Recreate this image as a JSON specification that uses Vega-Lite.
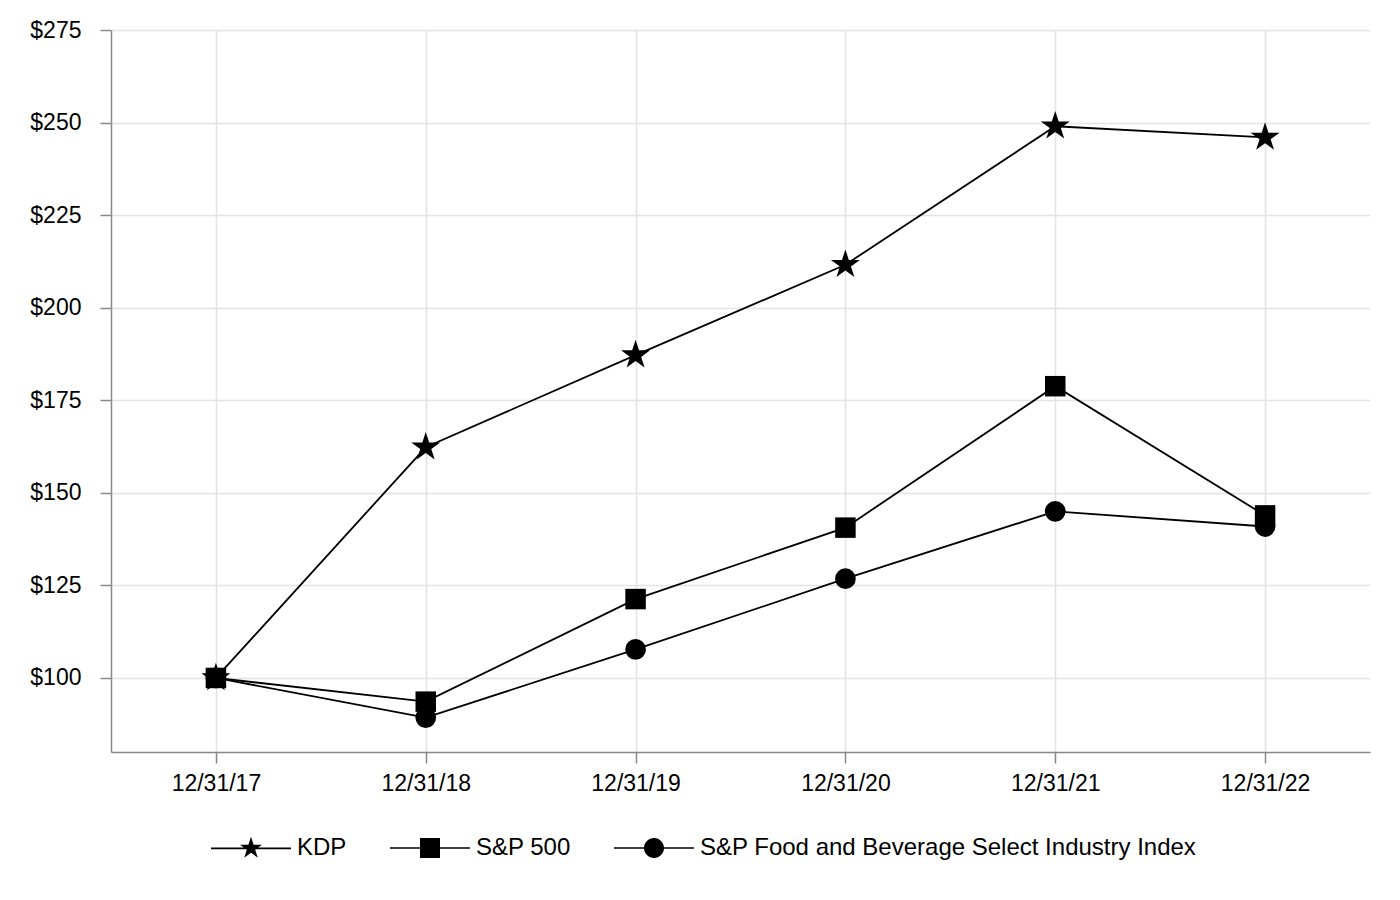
{
  "$schema": "https://vega.github.io/schema/vega-lite/v6.json",
  "description": "Cumulative total return comparison",
  "width": 1259,
  "height": 722,
  "autosize": {"type": "none"},
  "padding": {"left": 111, "top": 30, "right": 30, "bottom": 148},
  "background": "white",
  "config": {
    "font": "Liberation Sans",
    "view": {"stroke": null}
  },
  "data": {
    "values": [
      {"date": "12/31/17", "series": "S&P Food and Beverage Select Industry Index", "value": 100},
      {"date": "12/31/18", "series": "S&P Food and Beverage Select Industry Index", "value": 89.3},
      {"date": "12/31/19", "series": "S&P Food and Beverage Select Industry Index", "value": 107.7},
      {"date": "12/31/20", "series": "S&P Food and Beverage Select Industry Index", "value": 126.8},
      {"date": "12/31/21", "series": "S&P Food and Beverage Select Industry Index", "value": 145.0},
      {"date": "12/31/22", "series": "S&P Food and Beverage Select Industry Index", "value": 140.9},
      {"date": "12/31/17", "series": "S&P 500", "value": 100},
      {"date": "12/31/18", "series": "S&P 500", "value": 93.6},
      {"date": "12/31/19", "series": "S&P 500", "value": 121.3},
      {"date": "12/31/20", "series": "S&P 500", "value": 140.6},
      {"date": "12/31/21", "series": "S&P 500", "value": 178.8},
      {"date": "12/31/22", "series": "S&P 500", "value": 143.9},
      {"date": "12/31/17", "series": "KDP", "value": 100},
      {"date": "12/31/18", "series": "KDP", "value": 162.3},
      {"date": "12/31/19", "series": "KDP", "value": 187.2},
      {"date": "12/31/20", "series": "KDP", "value": 211.6},
      {"date": "12/31/21", "series": "KDP", "value": 249.0},
      {"date": "12/31/22", "series": "KDP", "value": 246.0}
    ]
  },
  "encoding": {
    "x": {
      "field": "date",
      "type": "ordinal",
      "scale": {"type": "point", "padding": 0.5},
      "axis": {
        "title": null,
        "labelAngle": 0,
        "labelFontSize": 23,
        "labelColor": "black",
        "labelPadding": 9,
        "tickSize": 11,
        "tickColor": "#888888",
        "tickWidth": 1.5,
        "domainColor": "#888888",
        "domainWidth": 1.5,
        "grid": true,
        "gridColor": "#e3e3e3",
        "gridWidth": 1.5
      }
    },
    "y": {
      "field": "value",
      "type": "quantitative",
      "scale": {"domain": [80, 275], "nice": false, "zero": false},
      "axis": {
        "title": null,
        "values": [100, 125, 150, 175, 200, 225, 250, 275],
        "labelExpr": "'$' + datum.value",
        "labelFontSize": 23,
        "labelColor": "black",
        "labelPadding": 19,
        "tickSize": 11,
        "tickColor": "#888888",
        "tickWidth": 1.5,
        "domainColor": "#888888",
        "domainWidth": 1.5,
        "grid": true,
        "gridColor": "#e3e3e3",
        "gridWidth": 1.5
      }
    }
  },
  "layer": [
    {
      "mark": {"type": "line", "color": "black", "strokeWidth": 1.8},
      "encoding": {"detail": {"field": "series"}}
    },
    {
      "transform": [{"filter": "datum.series === 'S&P Food and Beverage Select Industry Index'"}],
      "mark": {"type": "point", "filled": true, "color": "black", "opacity": 1, "shape": "circle", "size": 430}
    },
    {
      "transform": [{"filter": "datum.series === 'S&P 500'"}],
      "mark": {"type": "point", "filled": true, "color": "black", "opacity": 1, "shape": "square", "size": 420}
    },
    {
      "transform": [{"filter": "datum.series === 'KDP'"}],
      "mark": {"type": "point", "filled": true, "color": "black", "opacity": 1, "size": 930,
        "shape": "M0,-1L0.2245,-0.309L0.9511,-0.309L0.3633,0.118L0.5878,0.809L0,0.382L-0.5878,0.809L-0.3633,0.118L-0.9511,-0.309L-0.2245,-0.309Z"}
    },
    {
      "transform": [{"filter": "datum.value < 0"}],
      "mark": {"type": "point", "filled": true, "color": "black", "opacity": 1},
      "encoding": {
        "shape": {
          "field": "series",
          "type": "nominal",
          "scale": {
            "domain": ["KDP", "S&P 500", "S&P Food and Beverage Select Industry Index"],
            "range": [
              "M-4,-0.085H4V0.085H-4ZM0,-1.15L0.258,-0.355L1.094,-0.355L0.418,0.136L0.676,0.93L0,0.439L-0.676,0.93L-0.418,0.136L-1.094,-0.355L-0.258,-0.355Z",
              "M-4,-0.085H4V0.085H-4ZM-1,-1H1V1H-1Z",
              "M-4,-0.085H4V0.085H-4ZM-1,0A1,1,0,1,1,1,0A1,1,0,1,1,-1,0Z"
            ]
          },
          "legend": {
            "title": null,
            "orient": "none",
            "direction": "horizontal",
            "legendX": 128,
            "legendY": 806,
            "symbolSize": 400,
            "symbolFillColor": "black",
            "symbolOpacity": 1,
            "labelFontSize": 24,
            "labelColor": "black",
            "labelOffset": 34,
            "labelLimit": 600,
            "columnPadding": 40
          }
        }
      }
    }
  ]
}
